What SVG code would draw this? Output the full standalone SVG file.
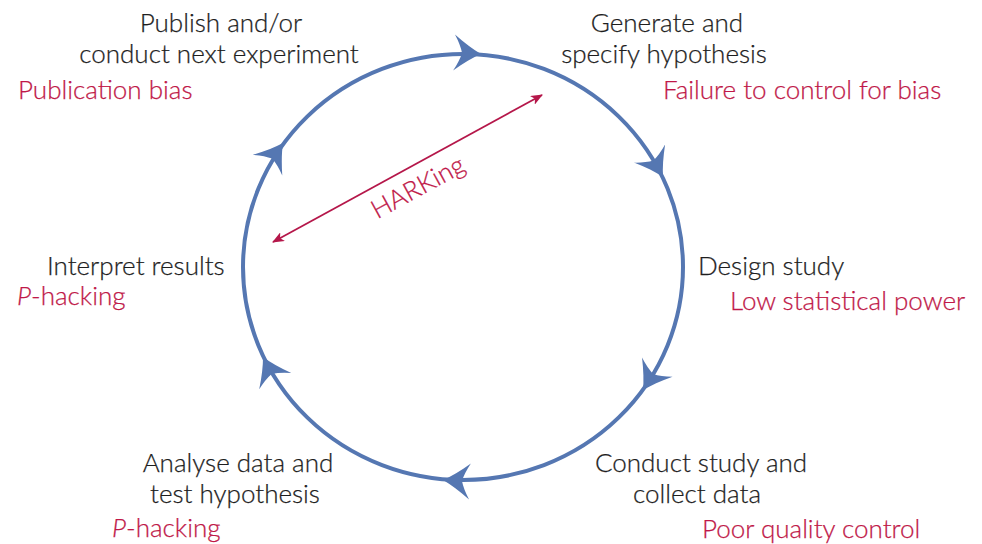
<svg xmlns="http://www.w3.org/2000/svg" xmlns:xlink="http://www.w3.org/1999/xlink" width="982" height="544" viewBox="0 0 982 544">
<style>
text{font-family:Lato,"Open Sans","Liberation Sans",sans-serif;font-size:26px;font-weight:300}
.k{fill:#1e1e1e;stroke:#1e1e1e;stroke-width:0.25}
.r{fill:#c01848;stroke:#c01848;stroke-width:0.25}
.cyc{fill:none;stroke:#5577b2;stroke-width:4}
.ah{fill:#5577b2}
.hk{stroke:#b5174a;stroke-width:1.8;fill:none}
</style>
<defs>
<path id="ah" d="M0,0 C-8,-4 -17,-10 -27,-18 Q-21,-8 -19,0 Q-21,8 -27,18 C-17,10 -8,4 0,0 Z"/>
<marker id="rm" viewBox="0 0 12 10" refX="11" refY="5" markerWidth="12" markerHeight="10" markerUnits="userSpaceOnUse" orient="auto-start-reverse">
<path d="M0,0 L12,5 L0,10 L3,5 Z" fill="#b5174a"/>
</marker>
</defs>
<g id="connectors">
<ellipse class="cyc" cx="463" cy="267" rx="220" ry="213"/>
<g class="ah">
<use xlink:href="#ah" transform="translate(481,54) rotate(3)"/>
<use xlink:href="#ah" transform="translate(663,177) rotate(60)"/>
<use xlink:href="#ah" transform="translate(643,390) rotate(122)"/>
<use xlink:href="#ah" transform="translate(443,480) rotate(183)"/>
<use xlink:href="#ah" transform="translate(263,357) rotate(243)"/>
<use xlink:href="#ah" transform="translate(283,143) rotate(-55)"/>
</g>
<line class="hk" x1="273" y1="242" x2="542" y2="95" marker-start="url(#rm)" marker-end="url(#rm)"/>
<text class="r" text-anchor="middle" transform="translate(422,195) rotate(-28.7)">HARKing</text>
</g>
<g id="publish">
<text class="k" x="221" y="32" text-anchor="middle">Publish and/or</text>
<text class="k" x="219" y="63" text-anchor="middle">conduct next experiment</text>
<text class="r" x="18" y="99">Publication bias</text>
</g>
<g id="generate">
<text class="k" x="667" y="32" text-anchor="middle">Generate and</text>
<text class="k" x="664" y="63" text-anchor="middle">specify hypothesis</text>
<text class="r" x="663" y="99">Failure to control for bias</text>
</g>
<g id="design">
<text class="k" x="698" y="275">Design study</text>
<text class="r" x="730" y="310">Low statistical power</text>
</g>
<g id="conduct">
<text class="k" x="701" y="472" text-anchor="middle">Conduct study and</text>
<text class="k" x="697" y="503" text-anchor="middle">collect data</text>
<text class="r" x="702" y="538">Poor quality control</text>
</g>
<g id="analyse">
<text class="k" x="238" y="472" text-anchor="middle">Analyse data and</text>
<text class="k" x="235" y="503" text-anchor="middle">test hypothesis</text>
<text class="r" x="112" y="537"><tspan font-style="italic">P</tspan>-hacking</text>
</g>
<g id="interpret">
<text class="k" x="47" y="275">Interpret results</text>
<text class="r" x="17" y="305"><tspan font-style="italic">P</tspan>-hacking</text>
</g>
</svg>
